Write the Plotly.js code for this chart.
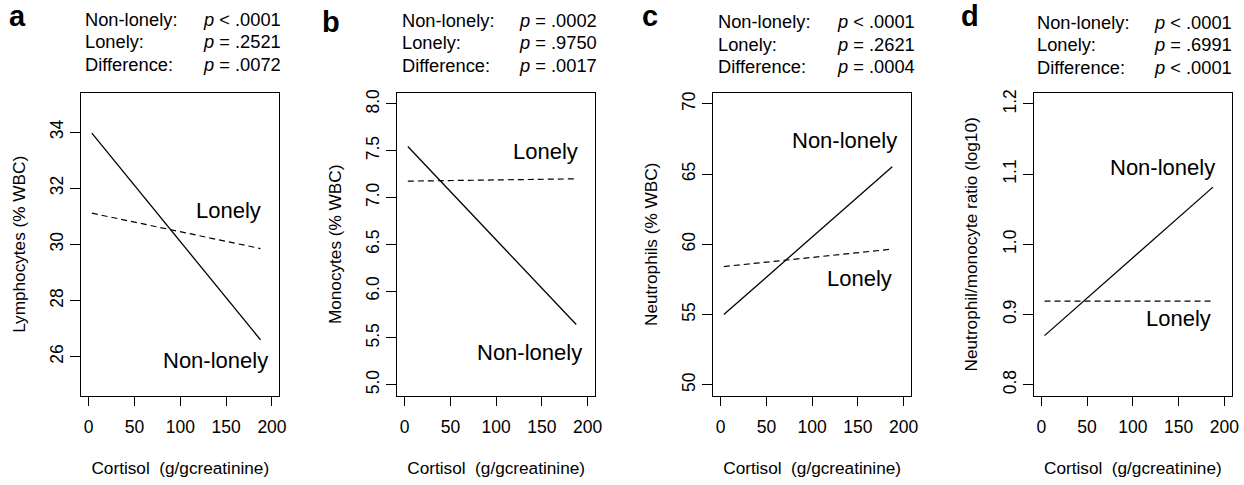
<!DOCTYPE html>
<html>
<head>
<meta charset="utf-8">
<script src="https://cdn.plot.ly/plotly-3.0.1.min.js"></script>
<style>html,body{margin:0;padding:0;background:#fff;}#chart{width:1244px;height:485px;}</style>
</head>
<body>
<div id="chart"></div>
<script>
// ---- data ----
const cortisol = [3.5, 187.5];
const xTicks = [0, 50, 100, 150, 200];

const panelLetters = ["a", "b", "c", "d"];
const yTitles = ["Lymphocytes (% WBC)", "Monocytes (% WBC)", "Neutrophils (% WBC)", "Neutrophil/monocyte ratio (log10)"];
const yLimits = [[25, 35], [5, 8], [50, 70], [0.8, 1.2]];
const yTicksA = [26, 28, 30, 32, 34];
const yTicksB = [5.0, 5.5, 6.0, 6.5, 7.0, 7.5, 8.0];
const yTicksC = [50, 55, 60, 65, 70];
const yTicksD = [0.8, 0.9, 1.0, 1.1, 1.2];

const nonLonelyA = [33.96, 26.6];
const lonelyA = [31.11, 29.85];
const nonLonelyB = [7.546, 5.643];
const lonelyB = [7.175, 7.20];
const nonLonelyC = [55.0, 65.53];
const lonelyC = [58.42, 59.66];
const nonLonelyD = [0.870, 1.0815];
const lonelyD = [0.919, 0.919];

const statLabels = ["Non-lonely:", "Lonely:", "Difference:"];
const pValuesA = ["&lt; .0001", "= .2521", "= .0072"];
const pValuesB = ["= .0002", "= .9750", "= .0017"];
const pValuesC = ["&lt; .0001", "= .2621", "= .0004"];
const pValuesD = ["&lt; .0001", "= .6991", "&lt; .0001"];

// label positions in data coordinates [x, y] for "Lonely" and "Non-lonely"
const lonelyLabelPos = [[153, 31.2], [154, 7.49], [151.5, 57.6], [150, 0.895]];
const nonLonelyLabelPos = [[138.6, 25.88], [136, 5.35], [135, 67.37], [132.4, 1.1088]];

// ---- layout geometry (pixels) ----
const W = 1244, H = 485;
const boxX = [[81.3, 279.3], [397.3, 595], [713.3, 911], [1034, 1231.7]];
const boxY = [92.7, 396];
const headerLeft = [84.7, 401.7, 718.3, 1036.7];
const headerRight = [203.3, 519.3, 836.7, 1154];
const headerBases = [[26.7, 49.3, 71.7], [28.3, 50, 73.3], [29, 51.7, 74], [30, 51.7, 75]];
const letterLeft = [8, 321, 640.7, 960];
const letterBase = [27.3, 32.7, 27.3, 27.3];

const nonLonely = [nonLonelyA, nonLonelyB, nonLonelyC, nonLonelyD];
const lonely = [lonelyA, lonelyB, lonelyC, lonelyD];
const yTicks = [yTicksA, yTicksB, yTicksC, yTicksD];
const pValues = [pValuesA, pValuesB, pValuesC, pValuesD];

const FONT = "Liberation Sans, Arial, Helvetica, sans-serif";
const px = v => v / W;
const py = v => 1 - v / H;

const traces = [];
const layout = {
  width: W, height: H,
  margin: {l: 0, r: 0, t: 0, b: 0},
  paper_bgcolor: "#fff", plot_bgcolor: "#fff",
  showlegend: false,
  font: {family: FONT, size: 17, color: "#000"},
  annotations: []
};

for (let i = 0; i < 4; i++) {
  const sfx = i === 0 ? "" : String(i + 1);
  const xa = "x" + sfx, ya = "y" + sfx;
  traces.push({
    x: cortisol, y: nonLonely[i], xaxis: xa, yaxis: ya, type: "scatter", mode: "lines",
    name: "Non-lonely", line: {color: "#000", width: 1.3}, hoverinfo: "skip"
  });
  traces.push({
    x: cortisol, y: lonely[i], xaxis: xa, yaxis: ya, type: "scatter", mode: "lines",
    name: "Lonely", line: {color: "#000", width: 1.2, dash: "6px,4px"}, hoverinfo: "skip"
  });
  const [lo, hi] = yLimits[i];
  const ext = (hi - lo) * 0.04;
  const fmt = (i === 1 || i === 3) ? ".1f" : "d";
  layout["xaxis" + sfx] = {
    domain: [px(boxX[i][0]), px(boxX[i][1])],
    anchor: ya, range: [-8, 208],
    tickvals: xTicks, ticks: "outside", ticklen: 9, tickwidth: 1, tickcolor: "#000",
    showline: true, mirror: true, linecolor: "#000", linewidth: 1,
    showgrid: false, zeroline: false,
    tickfont: {family: FONT, size: 17.5, color: "#000"},
    ticklabelstandoff: 6,
    title: {text: "Cortisol\u00A0 (g/gcreatinine)", font: {family: FONT, size: 17.2, color: "#000"}, standoff: 25},
    fixedrange: true
  };
  layout["yaxis" + sfx] = {
    domain: [py(boxY[1]), py(boxY[0])],
    anchor: xa, range: [lo - ext, hi + ext],
    tickvals: yTicks[i], tickformat: fmt, tickangle: -90,
    ticks: "outside", ticklen: 10, tickwidth: 1, tickcolor: "#000",
    showline: true, mirror: true, linecolor: "#000", linewidth: 1,
    showgrid: false, zeroline: false,
    tickfont: {family: FONT, size: 17.5, color: "#000"},
    ticklabelstandoff: 0,
    title: {text: yTitles[i], font: {family: FONT, size: 17.2, color: "#000"}, standoff: 17},
    fixedrange: true
  };
  // panel letter
  layout.annotations.push({
    xref: "paper", yref: "paper", x: px(letterLeft[i] - 1), y: py(letterBase[i] + 7),
    xanchor: "left", yanchor: "bottom", showarrow: false,
    text: "<b>" + panelLetters[i] + "</b>",
    font: {family: FONT, size: 29, color: "#000"}
  });
  // header rows: label and p value
  for (let r = 0; r < 3; r++) {
    const yb = py(headerBases[i][r] + 5);
    layout.annotations.push({
      xref: "paper", yref: "paper", x: px(headerLeft[i] - 2), y: yb,
      xanchor: "left", yanchor: "bottom", align: "left", showarrow: false,
      text: statLabels[r],
      font: {family: FONT, size: 18.3, color: "#000"}
    });
    layout.annotations.push({
      xref: "paper", yref: "paper", x: px(headerRight[i] - 2), y: yb,
      xanchor: "left", yanchor: "bottom", align: "left", showarrow: false,
      text: "<i>p</i> " + pValues[i][r],
      font: {family: FONT, size: 18.3, color: "#000"}
    });
  }
  // line labels
  layout.annotations.push({
    xref: xa, yref: ya, x: lonelyLabelPos[i][0], y: lonelyLabelPos[i][1],
    xanchor: "center", yanchor: "middle", showarrow: false, text: "Lonely",
    font: {family: FONT, size: 22, color: "#000"}
  });
  layout.annotations.push({
    xref: xa, yref: ya, x: nonLonelyLabelPos[i][0], y: nonLonelyLabelPos[i][1],
    xanchor: "center", yanchor: "middle", showarrow: false, text: "Non-lonely",
    font: {family: FONT, size: 22, color: "#000"}
  });
}

Plotly.newPlot("chart", traces, layout, {staticPlot: true, displayModeBar: false});
</script>
</body>
</html>
